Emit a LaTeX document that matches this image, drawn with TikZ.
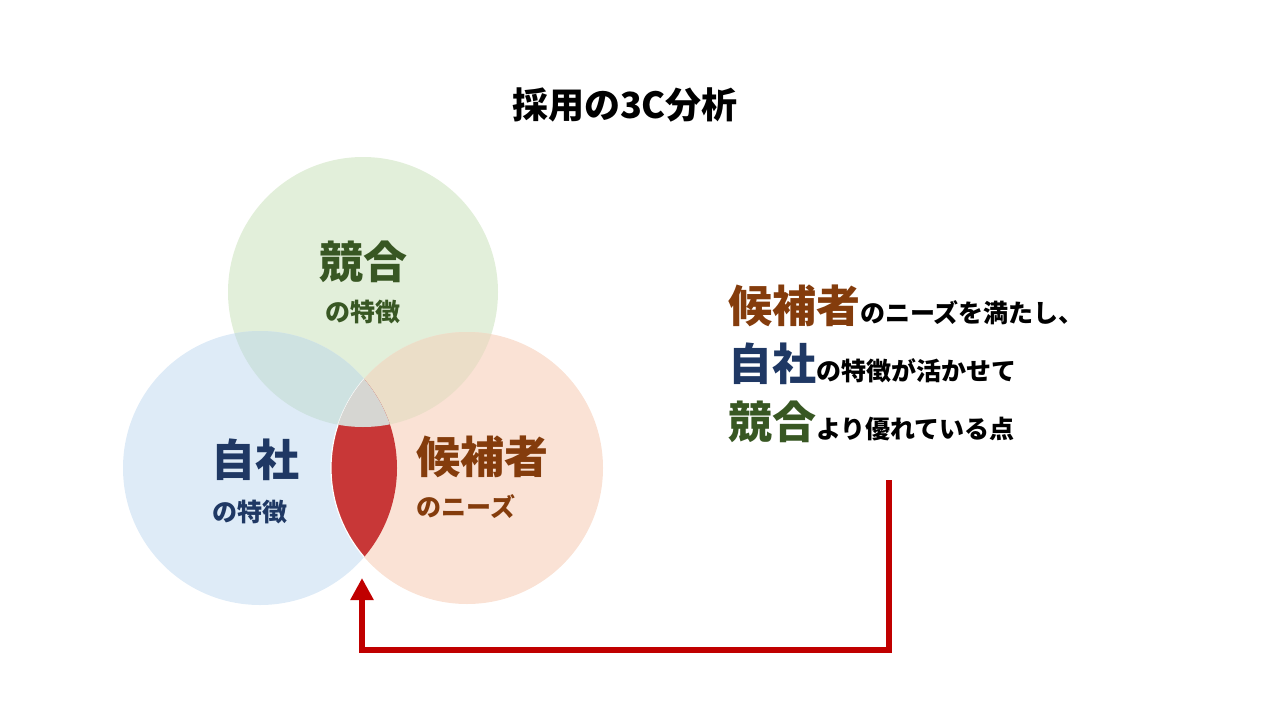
\documentclass[tikz,border=0pt]{standalone}
\usepackage{fontspec}
\setmainfont{Noto Sans CJK JP}
\usetikzlibrary{arrows.meta}
\definecolor{cg}{RGB}{226,239,218}
\definecolor{cb}{RGB}{222,235,247}
\definecolor{co}{RGB}{250,226,213}
\definecolor{cbg}{RGB}{206,226,225}
\definecolor{cgo}{RGB}{235,222,200}
\definecolor{cgray}{RGB}{214,214,210}
\definecolor{cred}{RGB}{200,55,55}
\definecolor{tg}{RGB}{56,87,35}
\definecolor{tb}{RGB}{31,56,100}
\definecolor{to}{RGB}{132,60,12}
\definecolor{arr}{RGB}{192,0,0}
\begin{document}
\begin{tikzpicture}[x=1pt,y=-1pt,
  big/.style={font=\bfseries\fontsize{44}{48}\selectfont,inner sep=0pt},
  small/.style={font=\bfseries\fontsize{25}{28}\selectfont,inner sep=0pt},
  lbl/.style={anchor=base west,inner sep=0pt}]
\useasboundingbox (0,0) rectangle (1280,720);
\def\G{(363,292) circle (135)}
\def\B{(260,468) circle (137)}
\def\O{(467,468) circle (136)}
\fill[cg] \G; \fill[cb] \B; \fill[co] \O;
\begin{scope}\clip \G; \fill[cbg] \B; \fill[cgo] \O; \end{scope}
\begin{scope}\clip \B; \fill[cred,draw=white,line width=1.2pt] \O; \end{scope}
\begin{scope}\clip \G; \clip \B; \fill[cgray] \O; \end{scope}
\node[font=\bfseries\fontsize{36}{40}\selectfont] (title) at (625,105) {採用の3C分析};
\node[big,text=tg] (k) at (363,262) {競合};
\node[small,text=tg] (k2) at (363,312) {の特徴};
\node[big,text=tb] (j) at (255,460) {自社};
\node[small,text=tb] (j2) at (250,512) {の特徴};
\node[big,text=to] (c) at (482,457) {候補者};
\node[small,text=to] (c2) at (466,507) {のニーズ};
\node[lbl] (l1) at (728,322) {\textcolor{to}{\bfseries\fontsize{44}{48}\selectfont 候補者}{\bfseries\fontsize{25}{28}\selectfont のニーズを満たし、}};
\node[lbl] (l2) at (728,380) {\textcolor{tb}{\bfseries\fontsize{44}{48}\selectfont 自社}{\bfseries\fontsize{25}{28}\selectfont の特徴が活かせて}};
\node[lbl] (l3) at (728,438) {\textcolor{tg}{\bfseries\fontsize{44}{48}\selectfont 競合}{\bfseries\fontsize{25}{28}\selectfont より優れている点}};
\coordinate (a0) at (889,480);
\coordinate (a1) at (362,578);
\draw[arr,line width=6pt,-{Triangle[length=22pt,width=22pt]}] (a0) |- (362,650) -- (a1);
\end{tikzpicture}
\end{document}
